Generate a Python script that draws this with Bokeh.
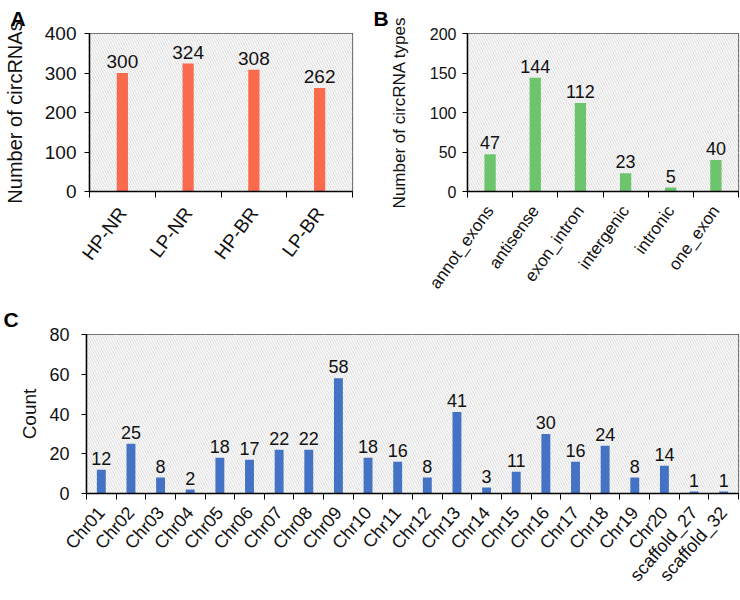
from bokeh.plotting import figure
from bokeh.models import (ColumnDataSource, FixedTicker, BoxAnnotation, Range1d, Title)
from bokeh.layouts import column, row
from bokeh.embed import file_html
from bokeh.resources import INLINE
from bokeh.core.properties import value

# ---- data ----
groups_a = ["HP-NR", "LP-NR", "HP-BR", "LP-BR"]
counts_a = [300, 324, 308, 262]

types_b = ["annot_exons", "antisense", "exon_intron", "intergenic", "intronic", "one_exon"]
counts_b = [47, 144, 112, 23, 5, 40]

chroms_c = ["Chr01", "Chr02", "Chr03", "Chr04", "Chr05", "Chr06", "Chr07", "Chr08",
            "Chr09", "Chr10", "Chr11", "Chr12", "Chr13", "Chr14", "Chr15", "Chr16",
            "Chr17", "Chr18", "Chr19", "Chr20", "scaffold_27", "scaffold_32"]
counts_c = [12, 25, 8, 2, 18, 17, 22, 22, 58, 18, 16, 8, 41, 3, 11, 30, 16, 24, 8, 14, 1, 1]

FONT = "Liberation Sans"
TXT = "#111111"


def panel(cats, vals, color, ymax, ystep, ylabel, letter, width, height,
          bl, br, bt, bb, bar_w, letter_offset, title_standoff,
          ytick_fs, data_fs, xlab_fs, ytitle_fs, ytick_standoff, ytitle_standoff,
          angle, xlab_standoff):
    n = len(cats)
    centers = [i + 0.5 for i in range(n)]
    bounds = list(range(n + 1))
    p = figure(width=width, height=height, output_backend="svg", toolbar_location=None,
               x_range=Range1d(0, n), y_range=Range1d(0, ymax),
               min_border_left=bl, min_border_right=br, min_border_top=bt,
               min_border_bottom=bb)
    p.title = Title(text=letter, align="left", offset=letter_offset,
                    text_font=FONT, text_font_size="21px", text_font_style="bold",
                    text_color="black", standoff=title_standoff)
    p.background_fill_color = "white"
    p.border_fill_color = "white"
    p.outline_line_color = "#404040"
    p.outline_line_width = 1.2

    # hatched plot area
    p.add_layout(BoxAnnotation(fill_color="#fcfcfc", fill_alpha=1.0,
                               hatch_pattern="\\", hatch_color="#cbcbcb",
                               hatch_scale=5, hatch_weight=0.7,
                               line_color=None, level="underlay"))

    src = ColumnDataSource(dict(x=centers, top=vals, lab=[str(v) for v in vals]))
    p.vbar(x="x", top="top", width=bar_w, source=src, fill_color=color, line_color=None)
    p.text(x="x", y="top", text="lab", source=src, text_align="center",
           text_baseline="bottom", y_offset=-5, text_font=value(FONT),
           text_font_size=data_fs, text_color=TXT)

    # x axis: labels at centers, ticks at category boundaries
    xa = p.xaxis[0]
    xa.ticker = FixedTicker(ticks=centers, minor_ticks=bounds)
    xa.major_label_overrides = {c: name for c, name in zip(centers, cats)}
    xa.major_tick_line_color = None
    xa.major_tick_in = 0
    xa.major_tick_out = 6
    xa.minor_tick_line_color = "black"
    xa.minor_tick_in = 0
    xa.minor_tick_out = 6
    xa.axis_line_color = "black"
    xa.axis_line_width = 1.5
    xa.major_label_orientation = angle
    xa.major_label_text_font = FONT
    xa.major_label_text_font_size = xlab_fs
    xa.major_label_text_color = TXT
    xa.major_label_standoff = xlab_standoff

    ya = p.yaxis[0]
    ya.ticker = FixedTicker(ticks=list(range(0, ymax + 1, ystep)))
    ya.minor_tick_line_color = None
    ya.major_tick_in = 0
    ya.major_tick_out = 5
    ya.axis_line_color = "black"
    ya.axis_line_width = 1.5
    ya.major_label_text_font = FONT
    ya.major_label_text_font_size = ytick_fs
    ya.major_label_text_color = TXT
    ya.major_label_standoff = ytick_standoff
    ya.axis_label = ylabel
    ya.axis_label_text_font = FONT
    ya.axis_label_text_font_size = ytitle_fs
    ya.axis_label_text_font_style = "normal"
    ya.axis_label_text_color = TXT
    ya.axis_label_standoff = ytitle_standoff

    p.xgrid.ticker = FixedTicker(ticks=bounds)
    p.xgrid.grid_line_color = "#d6d6d6"
    p.xgrid.grid_line_width = 1.5
    p.ygrid.grid_line_color = "#d6d6d6"
    p.ygrid.grid_line_width = 1.5
    return p


pa = panel(groups_a, counts_a, "#fa6a4c", 400, 100, "Number of circRNAs", "A",
           370, 300, 83, 18, 33, 106, 0.17, -79, 7,
           "19px", "19px", "19px", "20px", 8, 16, 0.93, 12)
pb = panel(types_b, counts_b, "#6cc46c", 200, 50, "Number of circRNA types", "B",
           370, 300, 97, 2, 33, 108, 0.25, -94, 7,
           "16px", "18px", "17px", "17px", 6, 18, 0.95, 10)
pc = panel(chroms_c, counts_c, "#4472c4", 80, 20, "Count", "C",
           740, 300, 86, 2, 34, 107, 0.3, -83, 8,
           "18px", "18px", "18px", "19px", 12, 6, 0.85, 10)

layout = column(row(pa, pb), pc)
open("out.html", "w").write(file_html(layout, INLINE))
